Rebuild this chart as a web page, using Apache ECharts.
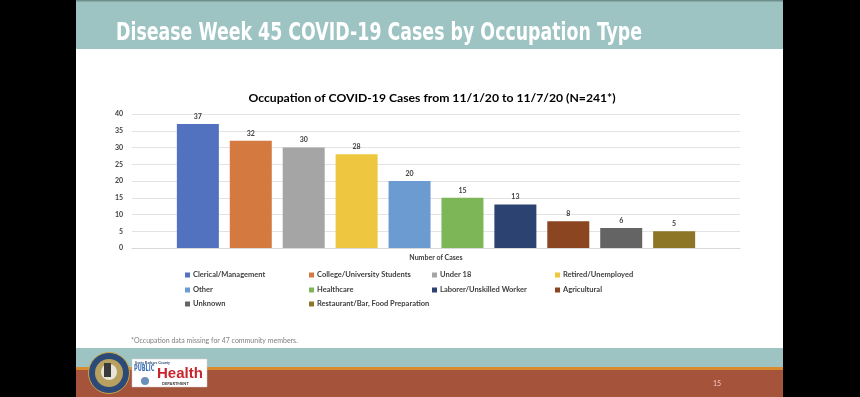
<!DOCTYPE html>
<html>
<head>
<meta charset="utf-8">
<script src="https://cdn.jsdelivr.net/npm/echarts@6/dist/echarts.min.js"></script>
<style>html,body{margin:0;padding:0;background:#000;}#c{width:860px;height:397px;}</style>
</head>
<body>
<div id="c"></div>
<script>
const categories = ['Number of Cases'];
const occupations = ['Clerical/Management','College/University Students','Under 18','Retired/Unemployed','Other','Healthcare','Laborer/Unskilled Worker','Agricultural','Unknown','Restaurant/Bar, Food Preparation'];
const cases = [37, 32, 30, 28, 20, 15, 13, 8, 6, 5];
const barColors = ['#5271BE','#D4793F','#A5A5A5','#EEC640','#6B9BD1','#7DB656','#2C4270','#8B4621','#646464','#8E7627'];
const slideTitle = 'Disease Week 45 COVID-19 Cases by Occupation Type';
const chartTitle = 'Occupation of COVID-19 Cases from 11/1/20 to 11/7/20 (N=241*)';
const footnote = '*Occupation data missing for 47 community members.';
const pageNumber = '15';

const FONT = 'Lato, "Open Sans", sans-serif';
const chart = echarts.init(document.getElementById('c'), null, {renderer: 'canvas'});

const legendCols = [185, 309, 432, 555];
const legendRows = [276, 291, 305];
const legends = occupations.map((name, i) => ({
  data: [name],
  left: legendCols[i % 4],
  top: legendRows[Math.floor(i / 4)] - 5,
  padding: 0,
  icon: 'rect',
  itemWidth: 5,
  itemHeight: 5,
  itemGap: 3,
  selectedMode: false,
  textStyle: {fontFamily: FONT, fontSize: 7.5, fontWeight: 'bold', color: '#404040', padding: [0,0,0,-2]}
}));

const series = occupations.map((name, i) => ({
  name: name,
  type: 'bar',
  data: [cases[i]],
  barWidth: 42,
  barGap: '26%',
  itemStyle: {color: barColors[i]},
  label: {show: true, position: 'top', distance: 4, fontFamily: FONT, fontSize: 7, fontWeight: 'bold', color: '#404040'}
}));

const option = {
  backgroundColor: '#000',
  animation: false,
  title: {
    text: chartTitle,
    left: 427, top: 87, textAlign: 'center',
    textStyle: {fontFamily: FONT, fontSize: 12.2, fontWeight: 'bold', color: '#000'}
  },
  legend: legends,
  grid: {left: 132, right: 120, top: 114, bottom: 149, containLabel: false},
  xAxis: {
    type: 'category', data: categories,
    axisTick: {show: false},
    axisLine: {lineStyle: {color: '#d9d9d9'}},
    axisLabel: {margin: 6, fontFamily: FONT, fontSize: 7, fontWeight: 'bold', color: '#404040'}
  },
  yAxis: {
    type: 'value', min: 0, max: 40, interval: 5,
    axisLine: {show: false}, axisTick: {show: false},
    splitLine: {lineStyle: {color: '#e3e3e3'}},
    axisLabel: {margin: 9, fontFamily: FONT, fontSize: 7, fontWeight: 'bold', color: '#404040'}
  },
  series: series,
  graphic: [
    {type: 'rect', z: -10, shape: {x: 76, y: 0, width: 707, height: 397}, style: {fill: '#ffffff'}},
    {type: 'rect', z: -9, shape: {x: 76, y: 0, width: 707, height: 49}, style: {fill: '#9DC4C2'}},
    {type: 'rect', z: -8, shape: {x: 76, y: 0, width: 707, height: 1.5}, style: {fill: '#6E8F8C'}},
    {type: 'text', z: 10, x: 116, y: 22, scaleX: 0.805, style: {text: slideTitle, fill: '#ffffff', font: 'bold 24px "DejaVu Sans Condensed", "DejaVu Sans", sans-serif'}},
    {type: 'text', z: 10, left: 131, top: 337, style: {text: footnote, fill: '#7f7f7f', font: '7px ' + FONT}},
    {type: 'rect', z: -9, shape: {x: 76, y: 348, width: 707, height: 19}, style: {fill: '#9DC4C2'}},
    {type: 'rect', z: -9, shape: {x: 76, y: 367, width: 707, height: 3}, style: {fill: '#D98B2E'}},
    {type: 'rect', z: -9, shape: {x: 76, y: 370, width: 707, height: 27}, style: {fill: '#A5533A'}},
    {type: 'text', z: 10, left: 713, top: 380, style: {text: pageNumber, fill: '#F2C9C0', font: '7px ' + FONT}},
    {type: 'circle', z: 5, shape: {cx: 109, cy: 373, r: 20.5}, style: {fill: '#2B4A78', stroke: '#C9A44A', lineWidth: 1}},
    {type: 'circle', z: 6, shape: {cx: 109, cy: 373, r: 14}, style: {fill: '#B8A060'}},
    {type: 'circle', z: 7, shape: {cx: 109, cy: 372, r: 8}, style: {fill: '#E8E4D8'}},
    {type: 'rect', z: 7, shape: {x: 104, y: 363, width: 7, height: 14}, style: {fill: '#3A3A3A'}},
    {type: 'rect', z: 5, shape: {x: 132, y: 359, width: 75, height: 28}, style: {fill: '#ffffff', stroke: '#cccccc', lineWidth: 0.5}},
    {type: 'text', z: 10, x: 135, y: 360, scaleX: 0.8, style: {text: 'Santa Barbara County', fill: '#2B4A78', font: 'bold 4.5px ' + FONT}},
    {type: 'text', z: 10, x: 134, y: 365, scaleX: 0.7, style: {text: 'PUBLIC', fill: '#3B6FB6', font: 'bold 8px "DejaVu Sans Condensed", sans-serif'}},
    {type: 'text', z: 10, x: 157, y: 366, style: {text: 'Health', fill: '#C8262E', font: 'bold 15px "Liberation Sans", sans-serif'}},
    {type: 'circle', z: 10, shape: {cx: 145, cy: 381, r: 4}, style: {fill: '#6A8FB8'}},
    {type: 'text', z: 10, x: 162, y: 382, style: {text: 'DEPARTMENT', fill: '#333333', font: 'bold 4px ' + FONT}}
  ]
};
chart.setOption(option);
</script>
</body>
</html>
